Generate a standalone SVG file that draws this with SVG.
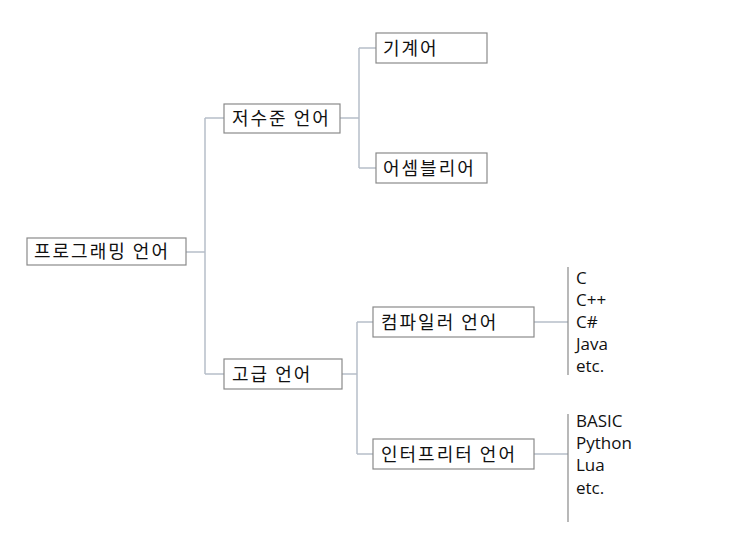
<svg xmlns="http://www.w3.org/2000/svg" width="740" height="555" viewBox="0 0 740 555">
<style>
.box{fill:#fff;stroke:#8a8a8a;stroke-width:1.2}
.t{font-family:"Noto Sans CJK KR","Malgun Gothic",sans-serif;font-size:18px;letter-spacing:2px;fill:#111}
.c{fill:none;stroke:#b6bec9;stroke-width:1.5}
.br{fill:none;stroke:#8a8a8a;stroke-width:1.2}
.l{font-family:"Open Sans","Noto Sans",sans-serif;font-size:17px;fill:#111}
</style>
<rect width="740" height="555" fill="#fff"/>
<g id="connectors">
<path class="c" d="M186 252H205M205 118V374M205 118H224M205 374H224"/>
<path class="c" d="M340 118H359M359 48V168M359 48H376M359 168H376"/>
<path class="c" d="M342 374H357M357 322V454M357 322H373M357 454H373"/>
<path class="c" d="M534 322H568M534 454H568"/>
<path class="br" d="M568 267V375M568 414V522"/>
</g>
<g id="root"><rect class="box" x="27" y="238" width="159" height="27"/><text class="t" x="34" y="258">프로그래밍 언어</text></g>
<g id="low"><rect class="box" x="224" y="104" width="116" height="29"/><text class="t" x="232" y="125">저수준 언어</text></g>
<g id="high"><rect class="box" x="224" y="359" width="118" height="30"/><text class="t" x="232" y="381">고급 언어</text></g>
<g id="machine"><rect class="box" x="376" y="33" width="111" height="30"/><text class="t" x="383" y="55">기계어</text></g>
<g id="asm"><rect class="box" x="376" y="153" width="111" height="30"/><text class="t" x="383" y="175">어셈블리어</text></g>
<g id="compiler"><rect class="box" x="373" y="307" width="161" height="30"/><text class="t" x="381" y="329">컴파일러 언어</text></g>
<g id="interp"><rect class="box" x="373" y="439" width="161" height="30"/><text class="t" x="381" y="461">인터프리터 언어</text></g>
<g id="compiled-list">
<text class="l" x="576" y="284">C</text>
<text class="l" x="576" y="306">C++</text>
<text class="l" x="576" y="328">C#</text>
<text class="l" x="576" y="350">Java</text>
<text class="l" x="576" y="372">etc.</text>
</g>
<g id="interp-list">
<text class="l" x="576" y="427">BASIC</text>
<text class="l" x="576" y="449">Python</text>
<text class="l" x="576" y="471">Lua</text>
<text class="l" x="576" y="494">etc.</text>
</g>
</svg>
